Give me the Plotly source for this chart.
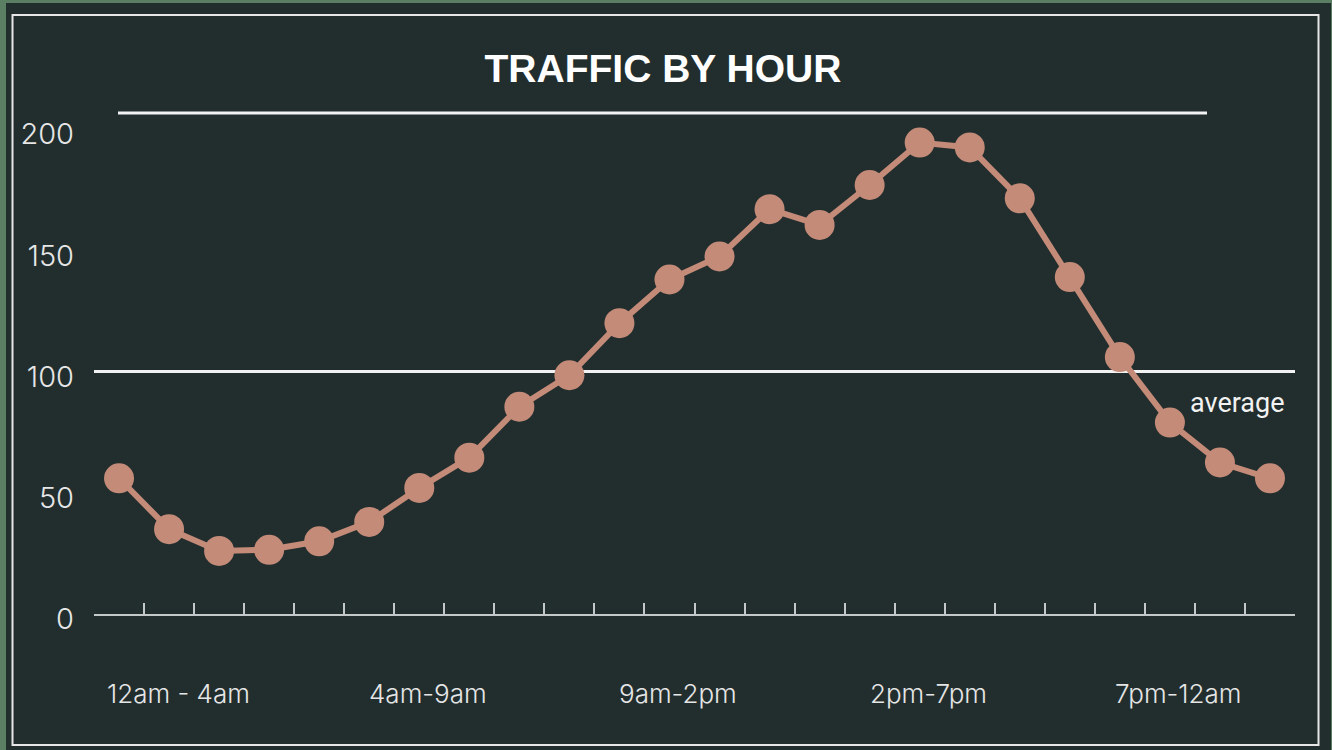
import plotly.graph_objects as go

hours = list(range(24))
traffic = [56, 35, 26, 26.5, 30, 38, 52, 64.5, 85.5, 98.5, 120, 138, 147.5, 167, 160.5, 177, 194.5, 192.5, 171.5, 139, 106, 79, 62.5, 56]
group_labels = ["12am - 4am", "4am-9am", "9am-2pm", "2pm-7pm", "7pm-12am"]
y_ticks = [0, 50, 100, 150, 200]
average_value = 100
title_text = "TRAFFIC BY HOUR"

BG = "#222e2e"
EDGE = "#5a7f63"
SALMON = "#c48b79"
WHITE = "#f2f2f2"
AXIS = "#c3c8c8"

W, H = 1332, 750
ML, MR, MT, MB = 94, 37, 105, 136
PW, PH = W - ML - MR, H - MT - MB

def px_x(p):
    return (p - ML) / PW

def px_y(p):
    return (H - MB - p) / PH

fig = go.Figure()
fig.add_trace(go.Scatter(
    x=hours, y=traffic, mode="lines+markers",
    line=dict(color=SALMON, width=6),
    marker=dict(color=SALMON, size=30, line=dict(width=0)),
    hoverinfo="x+y", showlegend=False,
))

shapes = [
    dict(type="rect", xref="paper", yref="paper", x0=px_x(6), x1=px_x(1331), y0=px_y(3), y1=px_y(752),
         fillcolor=BG, line=dict(width=0), layer="below"),
    dict(type="rect", xref="paper", yref="paper", x0=px_x(12.5), x1=px_x(1318.5), y0=px_y(15), y1=px_y(745),
         fillcolor="rgba(0,0,0,0)", line=dict(color="#e6e6e6", width=2), layer="below"),
    dict(type="line", xref="paper", yref="paper", x0=px_x(118), x1=px_x(1207), y0=px_y(113), y1=px_y(113),
         line=dict(color=WHITE, width=3)),
    dict(type="line", xref="x", yref="y", x0=-0.5, x1=23.5, y0=average_value, y1=average_value,
         line=dict(color=WHITE, width=3), layer="below"),
]

annotations = [
    dict(x=23.5, y=average_value, xref="x", yref="y", text="average", showarrow=False,
         xanchor="right", yanchor="middle", xshift=-8, yshift=-31,
         font=dict(family="Roboto", size=27, color=WHITE)),
]
for i, lab in enumerate(group_labels):
    annotations.append(dict(
        x=i * 5 + 1.18, y=0, xref="x", yref="paper", text=lab, showarrow=False,
        xanchor="center", yanchor="middle", yshift=-79,
        font=dict(family="Inter", size=26, color="#e6e6e6", weight=300),
    ))

fig.update_layout(
    width=W, height=H,
    margin=dict(l=ML, r=MR, t=MT, b=MB, pad=0),
    paper_bgcolor=EDGE, plot_bgcolor=BG,
    title=dict(text=f"<b>{title_text}</b>", x=0.4977, xanchor="center", y=1 - 68 / H, yanchor="middle",
               xref="container", yref="container",
               font=dict(family="Liberation Sans", size=39, color="white")),
    xaxis=dict(range=[-0.5, 23.5], showgrid=False, zeroline=False, showline=True, linecolor=AXIS, linewidth=2,
               ticks="inside", tickvals=[h - 0.5 for h in hours] + [23.5], ticklen=11, tickwidth=1.5,
               tickcolor=AXIS, showticklabels=False, fixedrange=True),
    yaxis=dict(range=[0, 210], showgrid=False, zeroline=False, showline=False, tickvals=y_ticks,
               ticks="", ticklabelstandoff=19, ticklabelshift=5,
               tickfont=dict(family="Inter", size=29, color="#e6e6e6", weight=300), fixedrange=True),
    shapes=shapes, annotations=annotations,
)

fig.write_html("out.html", config={"displayModeBar": False},
               post_script="document.body.style.margin='0';document.body.style.background='#5a7f63';")
